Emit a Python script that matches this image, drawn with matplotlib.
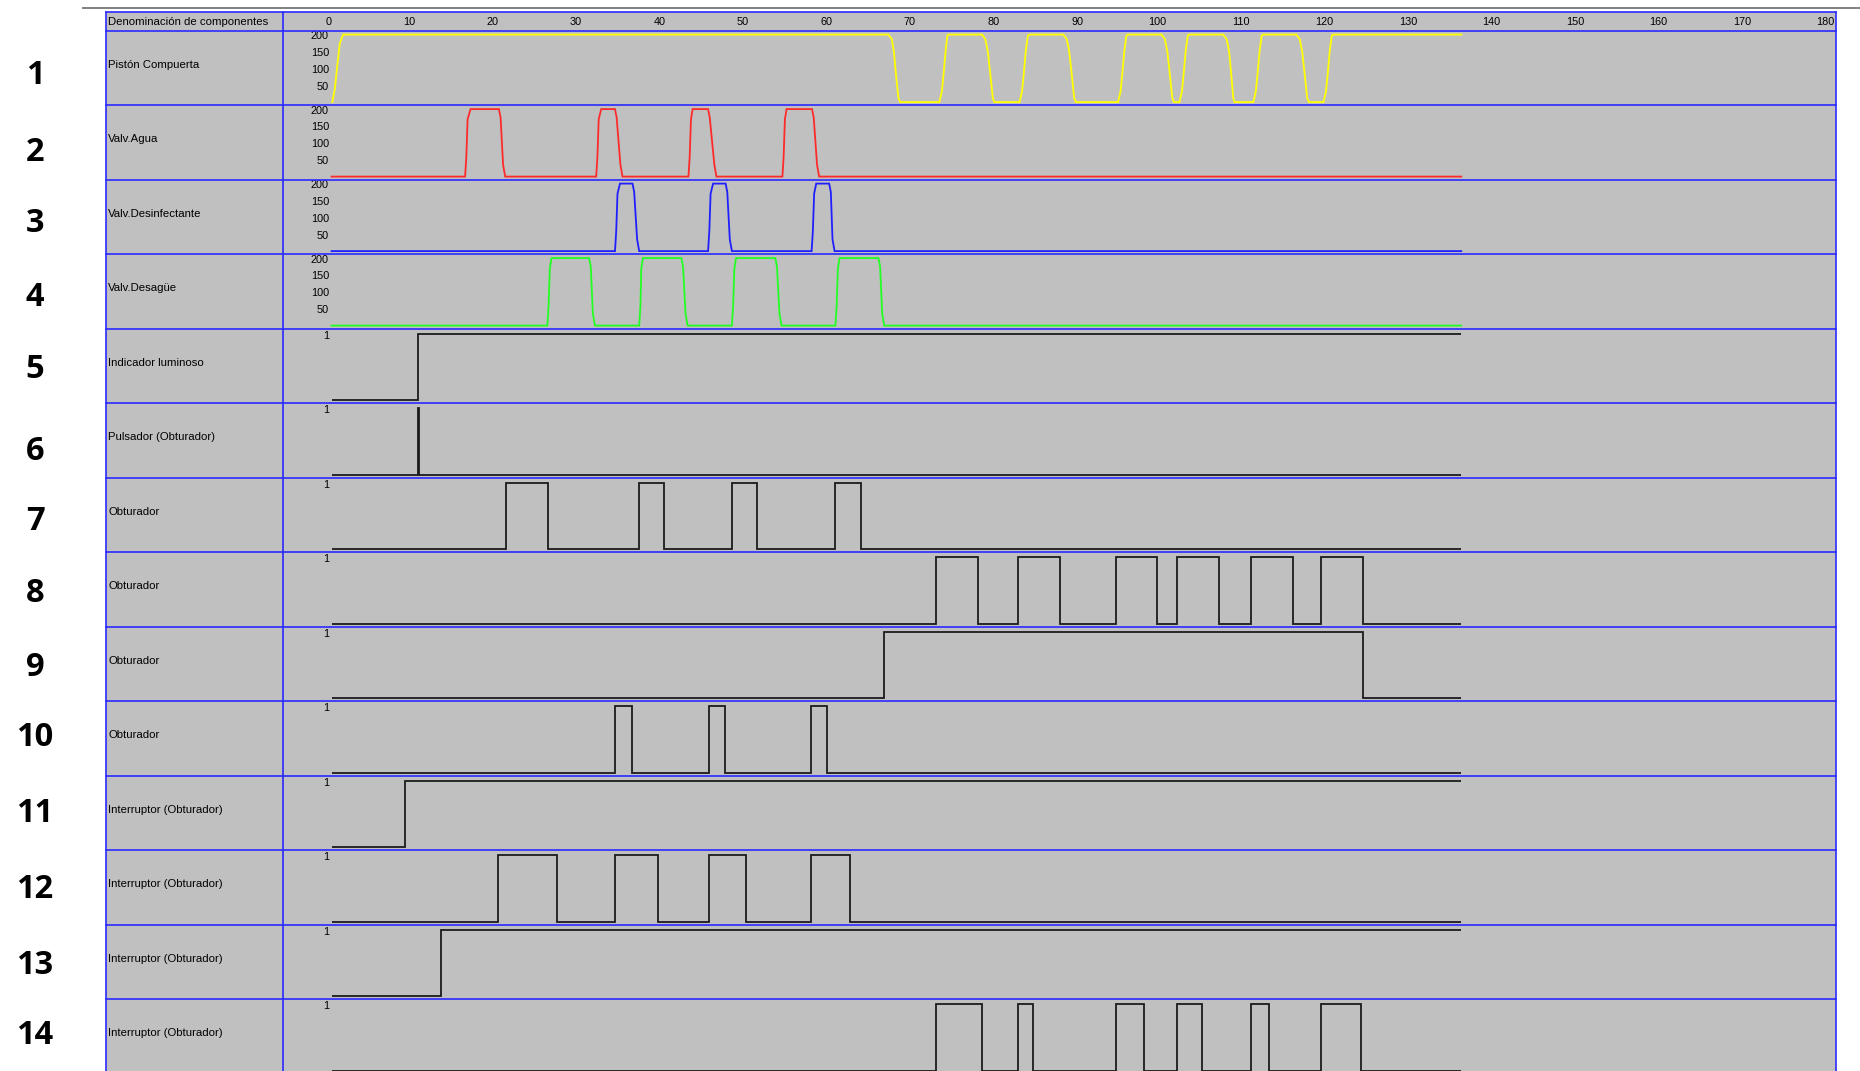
import matplotlib
matplotlib.use("Agg")
import matplotlib.pyplot as plt
from matplotlib.lines import Line2D
from matplotlib.patches import Rectangle

# ---------------------------------------------------------------- data
time_ticks = list(range(0, 181, 10))
END_T = 135.3

row_names = [
    "Pistón Compuerta", "Valv.Agua", "Valv.Desinfectante", "Valv.Desagüe",
    "Indicador luminoso", "Pulsador (Obturador)", "Obturador", "Obturador",
    "Obturador", "Obturador", "Interruptor (Obturador)",
    "Interruptor (Obturador)", "Interruptor (Obturador)",
    "Interruptor (Obturador)",
]
row_numbers = [str(i) for i in range(1, 15)]
analog_ticks = [200, 150, 100, 50]

# analog channels: (time, value) breakpoints
piston = [
    (0.1, 0), (0.4, 40), (0.7, 110), (1.0, 175), (1.4, 200),
    (66.7, 200), (67.1, 187), (67.35, 150), (67.6, 82), (67.9, 12), (68.1, 0),
    (72.8, 0), (73.1, 32), (73.3, 82), (73.55, 152), (73.75, 197), (73.9, 200),
    (77.9, 200), (78.3, 187), (78.6, 150), (78.9, 82), (79.2, 12), (79.4, 0),
    (82.4, 0), (82.7, 32), (82.9, 82), (83.15, 152), (83.4, 197), (83.6, 200),
    (87.65, 200), (88.05, 187), (88.35, 150), (88.65, 82), (88.95, 12), (89.15, 0),
    (94.2, 0), (94.5, 32), (94.7, 82), (94.95, 152), (95.2, 197), (95.4, 200),
    (99.4, 200), (99.8, 187), (100.1, 150), (100.4, 82), (100.7, 12), (100.9, 0),
    (101.55, 0), (101.85, 32), (102.05, 82), (102.3, 152), (102.55, 197), (102.7, 200),
    (106.8, 200), (107.2, 187), (107.5, 150), (107.75, 82), (108.0, 12), (108.15, 0),
    (110.4, 0), (110.7, 32), (110.9, 82), (111.15, 152), (111.4, 197), (111.55, 200),
    (115.55, 200), (115.95, 187), (116.25, 150), (116.55, 82), (116.85, 12), (117.05, 0),
    (118.8, 0), (119.1, 32), (119.3, 82), (119.55, 152), (119.8, 197), (120.0, 200),
    (135.3, 200),
]
valv_agua = [
    (0, 0),
    (16.0, 0), (16.15, 60), (16.3, 170), (16.65, 200), (20.05, 200), (20.25, 175), (20.55, 35), (20.8, 0),
    (31.7, 0), (31.85, 60), (32.0, 170), (32.3, 200), (33.95, 200), (34.15, 175), (34.6, 35), (34.85, 0),
    (42.75, 0), (42.9, 60), (43.05, 170), (43.25, 200), (45.1, 200), (45.3, 175), (45.85, 35), (46.1, 0),
    (54.0, 0), (54.15, 60), (54.3, 170), (54.5, 200), (57.55, 200), (57.75, 175), (58.15, 35), (58.4, 0),
    (135.3, 0),
]
valv_desinf = [
    (0, 0),
    (33.95, 0), (34.1, 60), (34.25, 170), (34.55, 200), (36.05, 200), (36.25, 175), (36.6, 35), (36.85, 0),
    (45.1, 0), (45.25, 60), (45.4, 170), (45.7, 200), (47.2, 200), (47.4, 175), (47.7, 35), (47.95, 0),
    (57.5, 0), (57.65, 60), (57.8, 170), (58.05, 200), (59.6, 200), (59.8, 175), (60.0, 35), (60.25, 0),
    (135.3, 0),
]
valv_desague = [
    (0, 0),
    (25.85, 0), (26.0, 60), (26.15, 170), (26.35, 200), (30.85, 200), (31.05, 175), (31.3, 35), (31.55, 0),
    (36.85, 0), (37.0, 60), (37.1, 170), (37.3, 200), (41.9, 200), (42.1, 175), (42.4, 35), (42.65, 0),
    (47.95, 0), (48.1, 60), (48.25, 170), (48.45, 200), (53.15, 200), (53.35, 175), (53.65, 35), (53.9, 0),
    (60.35, 0), (60.5, 60), (60.65, 170), (60.85, 200), (65.5, 200), (65.7, 175), (65.95, 35), (66.2, 0),
    (135.3, 0),
]
analog_rows = [piston, valv_agua, valv_desinf, valv_desague]
analog_colors = ["#ffff00", "#ff2a2a", "#1f1fff", "#22ff22"]

# digital channels: intervals where the signal is 1
indicador = [(10.3, 135.3)]
pulsador = [(10.3, 10.42)]
obturador_a = [(20.9, 25.9), (36.85, 39.8), (47.95, 50.95), (60.25, 63.4)]
obturador_b = [(72.45, 77.45), (82.25, 87.2), (93.9, 98.85), (101.2, 106.25),
               (110.1, 115.1), (118.55, 123.55)]
obturador_c = [(66.2, 123.55)]
obturador_d = [(33.95, 36.0), (45.15, 47.15), (57.45, 59.4)]
interruptor_a = [(8.85, 135.3)]
interruptor_b = [(19.95, 27.05), (33.95, 39.1), (45.15, 49.6), (57.45, 62.05)]
interruptor_c = [(13.15, 135.3)]
interruptor_d = [(72.45, 77.9), (82.25, 84.0), (93.9, 97.35), (101.2, 104.2),
                 (110.1, 112.3), (118.55, 123.3)]
digital_rows = [indicador, pulsador, obturador_a, obturador_b, obturador_c,
                obturador_d, interruptor_a, interruptor_b, interruptor_c,
                interruptor_d]

# ---------------------------------------------------------------- layout (pixels)
W, H = 1860, 1071
TABLE_L, TABLE_R = 105.7, 1835.6
COL_SEP = 282.7
HEAD_TOP, ROW0_TOP = 11.7, 30.6
ROW_H = 74.5
T0_PX, PX_PER_T = 331.5, 8.35
number_y = [76, 153, 223, 298, 369, 451, 521, 593, 667,
            738, 813, 890, 966, 1036]

GRID = "#2b2bff"
BG = "#c0c0c0"
INK = "#1c1c1c"
FONT = ["Liberation Sans", "DejaVu Sans"]


def fx(x):
    return x / W


def fy(y):
    return 1 - y / H


fig = plt.figure(figsize=(W / 100, H / 100), dpi=100)
fig.patch.set_facecolor("white")

# table background
fig.add_artist(Rectangle((fx(TABLE_L), 0), fx(TABLE_R) - fx(TABLE_L),
                         fy(HEAD_TOP), transform=fig.transFigure,
                         facecolor=BG, edgecolor="none", zorder=0))

# window rule above the table
fig.add_artist(Line2D([fx(83), 1.0], [fy(8.3), fy(8.3)],
                      transform=fig.transFigure, color="#808080", lw=1.4))

# table grid
n_rows = len(row_names)
h_lines = [HEAD_TOP] + [ROW0_TOP + i * ROW_H for i in range(n_rows)]
for y in h_lines:
    fig.add_artist(Line2D([fx(TABLE_L), fx(TABLE_R)], [fy(y), fy(y)],
                          transform=fig.transFigure, color=GRID, lw=1.2,
                          zorder=5))
for x in (TABLE_L, COL_SEP, TABLE_R):
    fig.add_artist(Line2D([fx(x), fx(x)], [fy(HEAD_TOP), 0],
                          transform=fig.transFigure, color=GRID, lw=1.2,
                          zorder=5))

x_lo = (COL_SEP - T0_PX) / PX_PER_T
x_hi = (TABLE_R - T0_PX) / PX_PER_T


def row_axes(top, height):
    ax = fig.add_axes([fx(COL_SEP), fy(top + height),
                       fx(TABLE_R) - fx(COL_SEP), height / H])
    ax.set_axis_off()
    ax.patch.set_alpha(0)
    ax.set_xlim(x_lo, x_hi)
    return ax


# header
fig.text(fx(108), fy((HEAD_TOP + ROW0_TOP) / 2 + 0.5),
         "Denominación de componentes", ha="left", va="center",
         fontsize=8.2, family=FONT, color="black")
hax = row_axes(HEAD_TOP, ROW0_TOP - HEAD_TOP)
hax.set_ylim(0, 1)
for t in time_ticks:
    hax.text(t, 0.48, str(t), ha="right", va="center", fontsize=7.8,
             family=FONT, color="black")

# rows
for i in range(n_rows):
    top = ROW0_TOP + i * ROW_H
    fig.text(fx(108), fy(top + ROW_H / 2 - 3), row_names[i], ha="left",
             va="center", fontsize=8.2, family=FONT, color="black")
    fig.text(fx(35), fy(number_y[i]), row_numbers[i], ha="center",
             va="center", fontsize=23.5, weight="bold",
             family=["Open Sans", "DejaVu Sans"], color="black")

    ax = row_axes(top, ROW_H)
    if i < len(analog_rows):
        u = 200 / (ROW_H - 7)
        ax.set_ylim(-3 * u, 200 + 4 * u)
        pts = analog_rows[i]
        ax.plot([p[0] for p in pts], [p[1] for p in pts],
                color=analog_colors[i], lw=1.3, solid_joinstyle="miter")
        for v in analog_ticks:
            ax.text(-0.3, v - 1.5 * u, str(v), ha="right", va="center",
                    fontsize=7.8, family=FONT, color="black")
    else:
        u = 1 / (ROW_H - 8)
        ax.set_ylim(-3 * u, 1 + 5 * u)
        xs, ys = [0.0], [0]
        for s, e in digital_rows[i - len(analog_rows)]:
            xs += [s, s]
            ys += [0, 1]
            if e < END_T:
                xs += [e, e]
                ys += [1, 0]
            else:
                xs.append(e)
                ys.append(1)
        if ys[-1] == 0:
            xs.append(END_T)
            ys.append(0)
        ax.plot(xs, ys, color=INK, lw=1.3, solid_joinstyle="miter",
                solid_capstyle="butt")
        ax.text(-0.3, 1 - 2 * u, "1", ha="right", va="center",
                fontsize=7.8, family=FONT, color="black")

fig.savefig("out.png", dpi=100, facecolor="white")
